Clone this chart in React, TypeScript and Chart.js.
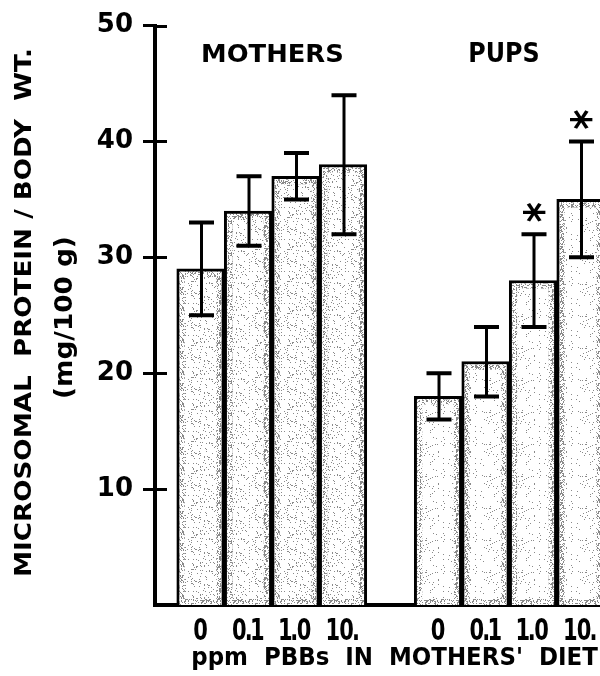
import React, { useEffect, useRef } from 'react';
import { Chart, registerables } from 'chart.js';

Chart.register(...registerables);

// ---- data ----
const doseLabels = ['0', '0.1', '1.0', '10.'];
const groupLabels = ['MOTHERS', 'PUPS'];
const mothersMean = [29, 34, 37, 38];
const mothersErr = [4, 3, 2, 6];
const pupsMean = [18, 21, 28, 35];
const pupsErr = [2, 3, 4, 5];
const pupsSignificant = [false, false, true, true];
const yTickValues = [10, 20, 30, 40, 50];
const yTitle = ['MICROSOMAL  PROTEIN / BODY  WT.', '(mg/100 g)'];
const xTitle = "ppm  PBBs  IN  MOTHERS'  DIET";

const mothersX = doseLabels.map((_, i) => i + 1);
const pupsX = doseLabels.map((_, i) => i + doseLabels.length + 2);
const allX = [...mothersX, ...pupsX];

const FAMILY = '"DejaVu Sans", "Noto Sans", sans-serif';
const tickFont = { family: FAMILY, size: 26, weight: 'bold' as const };

function makePattern(ctx: CanvasRenderingContext2D, density: number, seed: number, color: string) {
  const c = document.createElement('canvas');
  c.width = 32;
  c.height = 32;
  const g = c.getContext('2d')!;
  g.fillStyle = '#ffffff';
  g.fillRect(0, 0, 32, 32);
  let s = seed;
  g.fillStyle = color;
  for (let y = 0; y < 32; y++) {
    for (let x = 0; x < 32; x++) {
      s = (s * 1103515245 + 12345) & 0x7fffffff;
      if ((s % 1000) / 1000 < density) g.fillRect(x, y, 1, 1);
    }
  }
  return ctx.createPattern(c, 'repeat')!;
}

function drawFitted(
  ctx: CanvasRenderingContext2D,
  text: string,
  cx: number,
  cy: number,
  size: number,
  targetW: number,
  targetH: number,
  rot: number
) {
  ctx.save();
  ctx.font = `bold ${size}px ${FAMILY}`;
  ctx.textAlign = 'left';
  ctx.textBaseline = 'alphabetic';
  const m = ctx.measureText(text);
  const w = m.actualBoundingBoxLeft + m.actualBoundingBoxRight;
  const h = m.actualBoundingBoxAscent + m.actualBoundingBoxDescent;
  ctx.translate(cx, cy);
  ctx.rotate(rot);
  ctx.scale(targetW / w, targetH / h);
  ctx.fillStyle = '#000';
  ctx.fillText(
    text,
    (m.actualBoundingBoxLeft - m.actualBoundingBoxRight) / 2,
    (m.actualBoundingBoxAscent - m.actualBoundingBoxDescent) / 2
  );
  ctx.restore();
}

// tight, horizontally condensed label (characters laid out by ink width)
function drawTight(
  ctx: CanvasRenderingContext2D,
  text: string,
  cx: number,
  cy: number,
  size: number,
  sx: number,
  gap: number
) {
  ctx.save();
  ctx.font = `bold ${size}px ${FAMILY}`;
  ctx.textAlign = 'left';
  ctx.textBaseline = 'alphabetic';
  ctx.fillStyle = '#000';
  const capH = ctx.measureText('0').actualBoundingBoxAscent;
  const chars = Array.from(text);
  const ms = chars.map((c) => ctx.measureText(c));
  const inkW = ms.map((m) => (m.actualBoundingBoxLeft + m.actualBoundingBoxRight) * sx);
  const total = inkW.reduce((a, b) => a + b, 0) + gap * (chars.length - 1);
  let x = cx - total / 2;
  chars.forEach((c, i) => {
    ctx.save();
    ctx.translate(x, cy + capH / 2);
    ctx.scale(sx, 1);
    ctx.fillText(c, ms[i].actualBoundingBoxLeft, 0);
    ctx.restore();
    x += inkW[i] + gap;
  });
  ctx.restore();
}

export default function App() {
  const ref = useRef<HTMLCanvasElement>(null);

  useEffect(() => {
    const canvas = ref.current!;
    const ctx0 = canvas.getContext('2d')!;
    const mothersPattern = makePattern(ctx0, 0.08, 12345, '#8a8a8a');
    const pupsPattern = makePattern(ctx0, 0.04, 777, '#8a8a8a');
    const bandPattern = makePattern(ctx0, 0.35, 4242, '#8a8a8a');

    const means = [mothersMean, pupsMean];
    const errs = [mothersErr, pupsErr];

    const overlay = {
      id: 'overlay',
      afterDatasetsDraw(chart: any) {
        const ctx: CanvasRenderingContext2D = chart.ctx;
        const ys = chart.scales.y;
        const area = chart.chartArea;
        ctx.save();
        ctx.beginPath();
        ctx.rect(area.left, 0, area.right - area.left, area.bottom + 2);
        ctx.clip();
        chart.data.datasets.forEach((_: any, di: number) => {
          const meta = chart.getDatasetMeta(di);
          meta.data.forEach((bar: any, i: number) => {
            const { x, y, base, width } = bar.getProps(['x', 'y', 'base', 'width'], true);
            const l = x - width / 2 + 3;
            const r = x + width / 2 - 3;
            const t = y + 3;
            const b = base;
            ctx.fillStyle = bandPattern;
            ctx.fillRect(l, t, 5, b - t);
            ctx.fillRect(r - 5, t, 5, b - t);
            ctx.fillRect(l, t, r - l, 5);
            ctx.fillRect(l, b - 6, r - l, 5);

            const mean = means[di][i];
            const err = errs[di][i];
            const top = ys.getPixelForValue(mean + err);
            const bot = ys.getPixelForValue(mean - err);
            const ex = x + 1;
            ctx.strokeStyle = '#000';
            ctx.lineCap = 'butt';
            ctx.lineWidth = 3;
            ctx.beginPath();
            ctx.moveTo(ex, top);
            ctx.lineTo(ex, bot);
            ctx.stroke();
            ctx.lineWidth = 4;
            ctx.beginPath();
            ctx.moveTo(ex - 12.5, top);
            ctx.lineTo(ex + 12.5, top);
            ctx.moveTo(ex - 12.5, bot);
            ctx.lineTo(ex + 12.5, bot);
            ctx.stroke();

            if (di === 1 && pupsSignificant[i]) {
              drawFitted(ctx, '*', ex, top - 22, 48, 20, 23, Math.PI / 2);
            }
          });
        });
        ctx.restore();
      },
      afterDraw(chart: any) {
        const ctx: CanvasRenderingContext2D = chart.ctx;
        const ys = chart.scales.y;
        const xs = chart.scales.x;
        const area = chart.chartArea;
        // inner half of y tick marks
        ctx.save();
        ctx.strokeStyle = '#000';
        ctx.lineWidth = 3;
        yTickValues.forEach((v) => {
          const py = Math.round(ys.getPixelForValue(v)) + 0.5;
          ctx.beginPath();
          ctx.moveTo(area.left, py);
          ctx.lineTo(area.left + 12, py);
          ctx.stroke();
        });
        ctx.restore();

        // x tick labels (dose), under each bar
        const labelY = area.bottom + 24;
        mothersX.forEach((v, i) => drawTight(ctx, doseLabels[i], xs.getPixelForValue(v), labelY, 30, 0.7, 1));
        pupsX.forEach((v, i) => drawTight(ctx, doseLabels[i], xs.getPixelForValue(v), labelY, 30, 0.7, 1));

        // y title
        drawFitted(ctx, yTitle[0], 23, 312.5, 26, 525, 20, -Math.PI / 2);
        drawFitted(ctx, yTitle[1], 65.5, 317.5, 26, 159, 25, -Math.PI / 2);
        // group labels
        drawFitted(ctx, groupLabels[0], 272.5, 52.5, 26, 139, 19, 0);
        drawFitted(ctx, groupLabels[1], 504, 52, 26, 68, 20, 0);
        // x title
        drawFitted(ctx, xTitle, 395.5, 658, 26, 405, 25, 0);
      },
    };

    const chart = new Chart(canvas, {
      type: 'bar',
      data: {
        datasets: [
          {
            label: groupLabels[0],
            data: mothersX.map((x, i) => ({ x, y: mothersMean[i] })),
            backgroundColor: mothersPattern,
            borderColor: '#000',
            borderWidth: 3,
            borderSkipped: 'start',
            grouped: false,
            barPercentage: 1,
            categoryPercentage: 1,
          } as any,
          {
            label: groupLabels[1],
            data: pupsX.map((x, i) => ({ x, y: pupsMean[i] })),
            backgroundColor: pupsPattern,
            borderColor: '#000',
            borderWidth: 3,
            borderSkipped: 'start',
            grouped: false,
            barPercentage: 1,
            categoryPercentage: 1,
          } as any,
        ],
      },
      options: {
        responsive: false,
        animation: false,
        devicePixelRatio: 1,
        layout: { padding: { top: 25, right: 12, left: 0, bottom: 0 } },
        plugins: { legend: { display: false }, tooltip: { enabled: false } },
        scales: {
          x: {
            type: 'linear',
            offset: false,
            min: 0.042,
            max: 10,
            z: 1,
            grid: { display: false, drawTicks: false, offset: false },
            border: { display: true, color: '#000', width: 4 },
            ticks: { display: false },
            afterBuildTicks: (s: any) => {
              s.ticks = allX.map((v) => ({ value: v }));
            },
            afterFit: (s: any) => {
              s.height = 71;
            },
          } as any,
          y: {
            min: 0,
            max: 50,
            z: 1,
            grid: {
              drawOnChartArea: false,
              drawTicks: true,
              tickLength: 12,
              tickWidth: 3,
              tickColor: '#000',
              color: '#000',
            },
            border: { display: true, color: '#000', width: 4 },
            ticks: { padding: 10, color: '#000', font: tickFont },
            afterBuildTicks: (s: any) => {
              s.ticks = yTickValues.map((v) => ({ value: v }));
            },
            afterFit: (s: any) => {
              s.width = 155;
            },
          } as any,
        },
      },
      plugins: [overlay],
    });

    return () => chart.destroy();
  }, []);

  return (
    <div
      style={{
        position: 'fixed',
        left: 0,
        top: 0,
        width: 600,
        height: 676,
        overflow: 'hidden',
        background: '#fff',
      }}
    >
      <canvas ref={ref} width={640} height={676} style={{ display: 'block' }} />
    </div>
  );
}
